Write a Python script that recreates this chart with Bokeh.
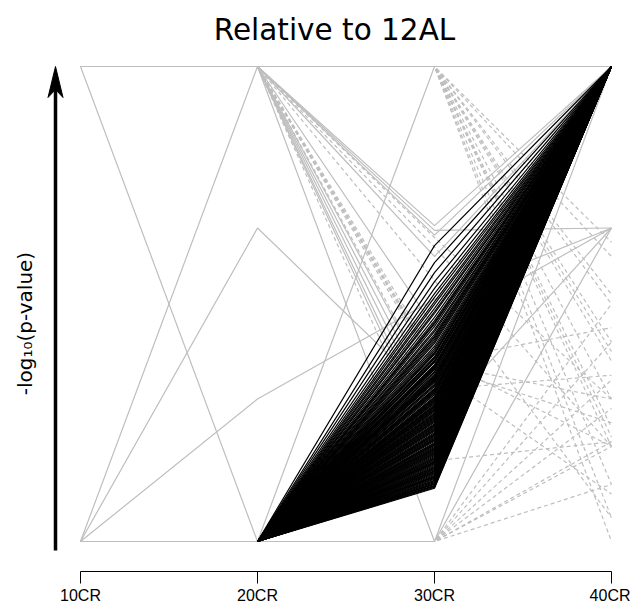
from bokeh.plotting import figure
from bokeh.models import LinearAxis, FixedTicker
from bokeh.core.properties import value
from bokeh.embed import file_html
from bokeh.resources import INLINE
import math

# ---------------- data ----------------
categories = ["10CR", "20CR", "30CR", "40CR"]

# black profiles: 20CR value, 30CR values (one per feature), 40CR value
black_20 = 0.0
black_40 = 1.0
black_30 = [0.623, 0.587, 0.566, 0.547, 0.533, 0.522, 0.514, 0.505, 0.499, 0.491,
            0.484, 0.480, 0.472, 0.465, 0.461, 0.453, 0.446, 0.442, 0.436, 0.432,
            0.425, 0.421, 0.417, 0.411, 0.406, 0.402, 0.398, 0.394, 0.387, 0.385,
            0.381, 0.377, 0.371, 0.368, 0.364, 0.362, 0.356, 0.352, 0.349, 0.345,
            0.341, 0.337, 0.335, 0.331, 0.326, 0.322, 0.320, 0.316, 0.312, 0.309,
            0.305, 0.301, 0.299, 0.295, 0.291, 0.288, 0.284, 0.280, 0.278, 0.274,
            0.269, 0.267, 0.263, 0.259, 0.257, 0.253, 0.248, 0.246, 0.242, 0.238,
            0.236, 0.232, 0.227, 0.225, 0.221, 0.219, 0.215, 0.211, 0.208, 0.204,
            0.202, 0.198, 0.196, 0.192, 0.187, 0.185, 0.181, 0.179, 0.175, 0.173,
            0.168, 0.166, 0.162, 0.160, 0.156, 0.154, 0.149, 0.147, 0.143, 0.141,
            0.137, 0.135, 0.131, 0.128, 0.124, 0.120, 0.116, 0.112,
            0.458, 0.429, 0.396, 0.372, 0.343, 0.318, 0.293, 0.271, 0.251, 0.229,
            0.206, 0.189, 0.171, 0.152, 0.139, 0.126, 0.118, 0.114,
            0.389, 0.379, 0.366, 0.358, 0.347, 0.339, 0.329, 0.314, 0.303, 0.297,
            0.286, 0.276, 0.265, 0.255, 0.244, 0.234, 0.223, 0.213, 0.200, 0.194,
            0.183, 0.177, 0.170, 0.164, 0.158, 0.151, 0.145, 0.133, 0.129, 0.122,
            0.282, 0.261, 0.240, 0.217, 0.190, 0.167, 0.148, 0.136, 0.121, 0.117]

# grey solid profiles (10CR, 20CR, 30CR, 40CR)
gray_solid = [
    [1, 1, 1, 1],
    [1, 0, 0, 1],
    [0, 1, 0, 0.66],
    [0, 0.66, 0.30, 1],
    [0, 0.30, 0.51, 0.66],
    [0, 0, 1, 1],
    [1, 1, 0.20, 1],
    [1, 1, 0.22, 1],
    [1, 1, 0.25, 0.66],
    [1, 1, 0.28, 1],
    [1, 1, 0.31, 1],
    [1, 1, 0.45, 0.66],
    [1, 1, 0.60, 1],
    [1, 1, 0.645, 1],
    [1, 1, 0.655, 0.66],
    [1, 1, 0.665, 1],
]

# grey dashed profiles (10CR, 20CR, 30CR, 40CR)
gray_dashed = [
    [1, 1, 0.36, 0.10], [1, 1, 0.37, 0.25], [1, 1, 0.375, 0.30],
    [1, 1, 0.38, 0.45], [1, 1, 0.39, 0.20], [1, 1, 0.55, 0.05],
    [1, 1, 0.62, 0.20], [1, 1, 0.64, 0.30], [1, 1, 0.32, 0.35],
    [1, 1, 0.17, 0.21],
    [1, 1, 1, 0.0], [1, 1, 1, 0.05], [1, 1, 1, 0.12], [1, 1, 1, 0.20],
    [1, 1, 1, 0.22], [1, 1, 1, 0.24], [1, 1, 1, 0.30], [1, 1, 1, 0.38],
    [1, 1, 1, 0.40], [1, 1, 1, 0.42], [1, 1, 1, 0.50], [1, 1, 1, 0.52],
    [1, 1, 1, 0.60], [1, 1, 1, 0.63],
    [0, 0, 0, 0.12], [0, 0, 0, 0.20], [0, 0, 0, 0.21], [0, 0, 0, 0.28],
    [0, 0, 0, 0.34], [0, 0, 0, 0.42], [0, 0, 0, 0.50],
]

title_text = "Relative to 12AL"
ylabel_text = "-log\u2081\u2080(p-value)"

# ---------------- layout ----------------
W, H = 630, 608
BOTTOM = 37
FRAME_H = H - BOTTOM          # 571
PX_X = 177.0                  # pixels per category step
X0_PX = 80.0                  # px of first category
PX_Y = 475.0                  # pixels per unit of y
Y0_PX = 541.0                 # px (from top) of y = 0

x_start = -X0_PX / PX_X
x_end = (W - X0_PX) / PX_X
y_end = Y0_PX / PX_Y
y_start = (Y0_PX - FRAME_H) / PX_Y


def dx(px):
    return (px - X0_PX) / PX_X


def dy(py):
    return (Y0_PX - py) / PX_Y


p = figure(width=W, height=H, output_backend="svg", toolbar_location=None,
           x_range=(x_start, x_end), y_range=(y_start, y_end),
           x_axis_location=None, y_axis_location=None, title=None,
           min_border_left=0, min_border_right=0, min_border_top=0,
           min_border_bottom=BOTTOM)
p.outline_line_color = None
p.xgrid.visible = False
p.ygrid.visible = False
p.background_fill_color = "white"
p.border_fill_color = "white"

xi = list(range(len(categories)))


def to_lines(rows):
    xs, ys = [], []
    for r in rows:
        xs.append([x for x, v in zip(xi, r) if v is not None])
        ys.append([v for v in r if v is not None])
    return xs, ys


gx, gy = to_lines(gray_dashed)
p.multi_line(gx, gy, line_color="#BEBEBE", line_width=1.2, line_dash="4 3")
gx, gy = to_lines(gray_solid)
p.multi_line(gx, gy, line_color="#BEBEBE", line_width=1.2)

# black lines on top
bxs = [[1, 2, 3] for _ in black_30]
bys = [[black_20, v, black_40] for v in black_30]
p.multi_line(bxs, bys, line_color="black", line_width=1.2)

# bottom axis
ax = LinearAxis(ticker=FixedTicker(ticks=xi),
                major_label_overrides={i: c for i, c in enumerate(categories)})
ax.bounds = (0, len(categories) - 1)
ax.axis_line_color = "black"
ax.axis_line_width = 1
ax.major_tick_line_color = "black"
ax.major_tick_out = 12
ax.major_tick_in = 0
ax.minor_tick_line_color = None
ax.major_label_standoff = 3
ax.major_label_text_font = "Liberation Sans"
ax.major_label_text_font_size = "16px"
ax.major_label_text_color = "black"
p.add_layout(ax, "below")

# arrow (y-axis indicator)
ax_x = dx(55)
p.segment(x0=[ax_x], y0=[dy(550)], x1=[ax_x], y1=[dy(80)],
          line_color="black", line_width=3.5)
hw = 7.5 / PX_X
p.patch(x=[ax_x, ax_x + hw, ax_x, ax_x - hw],
        y=[dy(66), dy(97), dy(89), dy(97)],
        fill_color="black", line_color="black", line_width=1)

# title
p.text(x=[dx(334)], y=[dy(29)], text=[title_text],
       text_font=value("DejaVu Sans"), text_font_size="29.5px",
       text_align="center", text_baseline="middle", text_color="black")

# y label
p.text(x=[dx(24)], y=[dy(323)], text=[ylabel_text], angle=math.pi / 2,
       text_font=value("DejaVu Sans"), text_font_size="20px",
       text_align="center", text_baseline="middle", text_color="black")

open("out.html", "w").write(file_html(p, INLINE))
